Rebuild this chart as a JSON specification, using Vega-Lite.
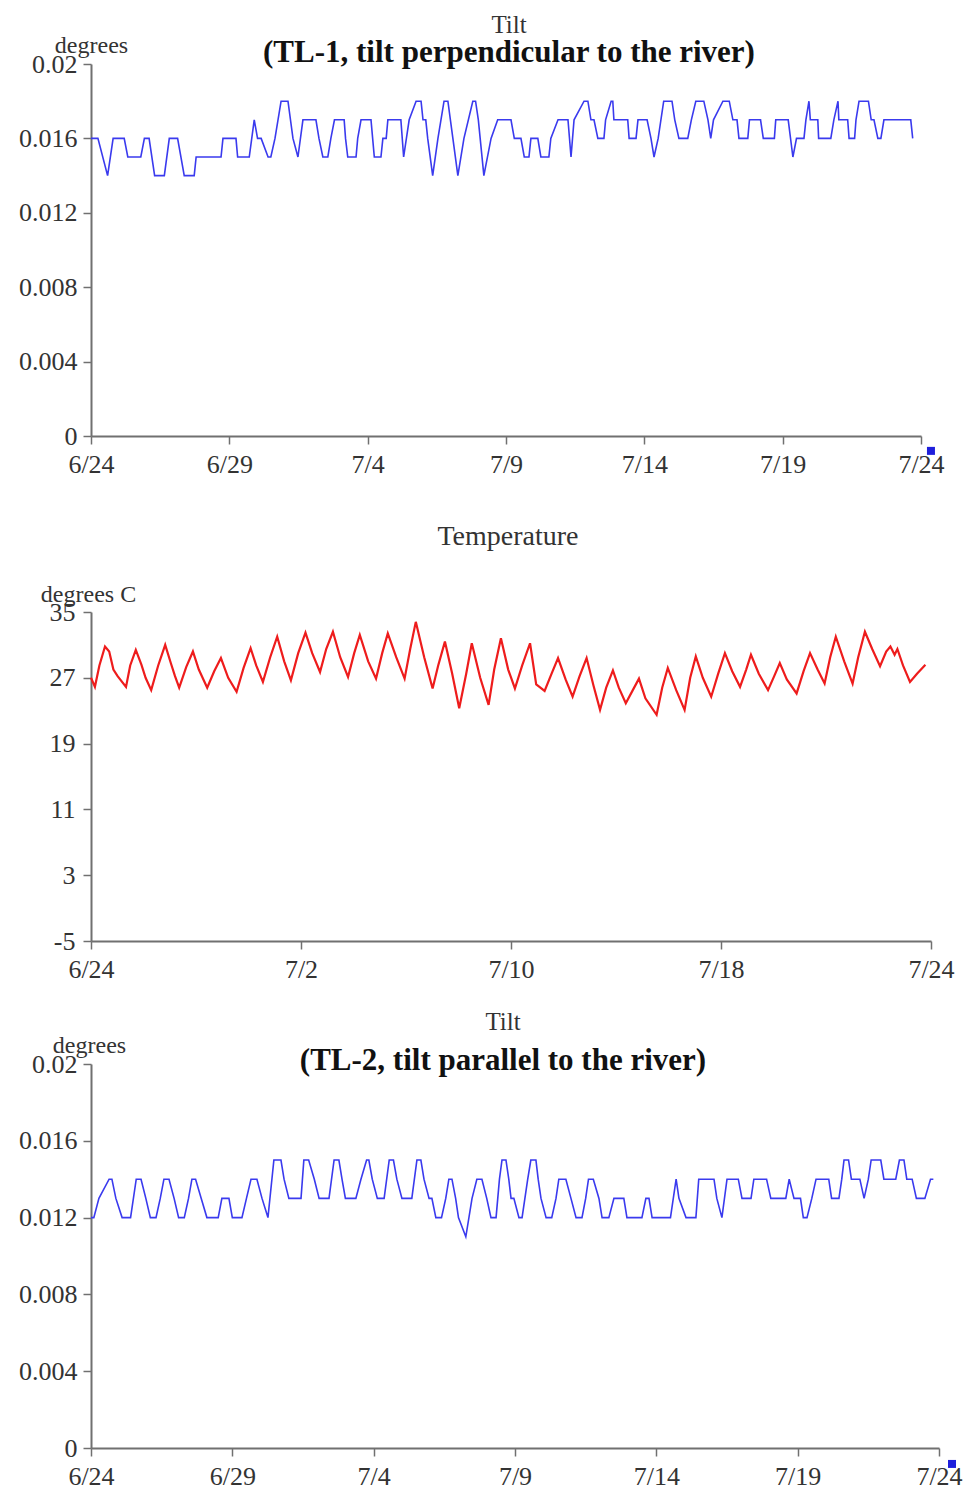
{
"$schema": "https://vega.github.io/schema/vega-lite/v6.json",
"background": "white",
"padding": {"left": 18, "top": 13, "right": 5, "bottom": 0},
"config": {
 "view": {"stroke": null},
 "font": "Liberation Serif",
 "axis": {"labelFont": "Liberation Serif", "labelFontSize": 26, "labelColor": "#333333", "domainColor": "#707070", "domainWidth": 2, "tickColor": "#707070", "tickWidth": 1.5, "tickSize": 8, "grid": false, "titleFont": "Liberation Serif", "titleFontSize": 24, "titleFontWeight": "normal", "titleColor": "#333333", "labelFlush": false, "labelOverlap": false},
 "title": {"font": "Liberation Serif", "fontSize": 25, "fontWeight": "normal", "color": "#333333", "subtitleFont": "Liberation Serif", "subtitleFontSize": 31, "subtitleFontWeight": "bold", "subtitleColor": "#111111", "anchor": "middle", "frame": "group"}
},
"datasets": {
 "tl1": [
{"d":0,"v":0.016},{"d":0.25,"v":0.016},{"d":0.6,"v":0.014},{"d":0.8,"v":0.016},{"d":1.2,"v":0.016},{"d":1.33,"v":0.015},{"d":1.8,"v":0.015},{"d":1.93,"v":0.016},{"d":2.1,"v":0.016},{"d":2.3,"v":0.014},{"d":2.65,"v":0.014},{"d":2.83,"v":0.016},{"d":3.13,"v":0.016},{"d":3.37,"v":0.014},{"d":3.73,"v":0.014},{"d":3.8,"v":0.015},{"d":4.7,"v":0.015},{"d":4.77,"v":0.016},{"d":5.24,"v":0.016},{"d":5.3,"v":0.015},{"d":5.72,"v":0.015},{"d":5.9,"v":0.017},{"d":6.02,"v":0.016},{"d":6.15,"v":0.016},{"d":6.4,"v":0.015},{"d":6.5,"v":0.015},{"d":6.65,"v":0.016},{"d":6.87,"v":0.018},{"d":7.12,"v":0.018},{"d":7.3,"v":0.016},{"d":7.48,"v":0.015},{"d":7.66,"v":0.017},{"d":8.13,"v":0.017},{"d":8.24,"v":0.016},{"d":8.38,"v":0.015},{"d":8.56,"v":0.015},{"d":8.67,"v":0.016},{"d":8.8,"v":0.017},{"d":9.15,"v":0.017},{"d":9.2,"v":0.016},{"d":9.28,"v":0.015},{"d":9.58,"v":0.015},{"d":9.64,"v":0.016},{"d":9.76,"v":0.017},{"d":10.12,"v":0.017},{"d":10.18,"v":0.016},{"d":10.24,"v":0.015},{"d":10.48,"v":0.015},{"d":10.55,"v":0.016},{"d":10.67,"v":0.016},{"d":10.73,"v":0.017},{"d":11.2,"v":0.017},{"d":11.3,"v":0.015},{"d":11.5,"v":0.017},{"d":11.75,"v":0.018},{"d":11.93,"v":0.018},{"d":12.0,"v":0.017},{"d":12.1,"v":0.017},{"d":12.17,"v":0.016},{"d":12.35,"v":0.014},{"d":12.54,"v":0.016},{"d":12.76,"v":0.018},{"d":12.9,"v":0.018},{"d":13.08,"v":0.016},{"d":13.26,"v":0.014},{"d":13.48,"v":0.016},{"d":13.8,"v":0.018},{"d":13.9,"v":0.018},{"d":14.0,"v":0.017},{"d":14.2,"v":0.014},{"d":14.46,"v":0.016},{"d":14.7,"v":0.017},{"d":15.18,"v":0.017},{"d":15.3,"v":0.016},{"d":15.54,"v":0.016},{"d":15.66,"v":0.015},{"d":15.83,"v":0.015},{"d":15.9,"v":0.016},{"d":16.15,"v":0.016},{"d":16.26,"v":0.015},{"d":16.55,"v":0.015},{"d":16.62,"v":0.016},{"d":16.88,"v":0.017},{"d":17.24,"v":0.017},{"d":17.35,"v":0.015},{"d":17.46,"v":0.017},{"d":17.82,"v":0.018},{"d":17.96,"v":0.018},{"d":18.07,"v":0.017},{"d":18.18,"v":0.017},{"d":18.32,"v":0.016},{"d":18.54,"v":0.016},{"d":18.6,"v":0.017},{"d":18.8,"v":0.018},{"d":18.86,"v":0.018},{"d":18.9,"v":0.017},{"d":19.4,"v":0.017},{"d":19.45,"v":0.016},{"d":19.7,"v":0.016},{"d":19.77,"v":0.017},{"d":20.1,"v":0.017},{"d":20.24,"v":0.016},{"d":20.35,"v":0.015},{"d":20.5,"v":0.016},{"d":20.7,"v":0.018},{"d":21.0,"v":0.018},{"d":21.1,"v":0.017},{"d":21.25,"v":0.016},{"d":21.57,"v":0.016},{"d":21.7,"v":0.017},{"d":21.86,"v":0.018},{"d":22.15,"v":0.018},{"d":22.3,"v":0.017},{"d":22.4,"v":0.016},{"d":22.5,"v":0.017},{"d":22.84,"v":0.018},{"d":23.07,"v":0.018},{"d":23.2,"v":0.017},{"d":23.35,"v":0.017},{"d":23.42,"v":0.016},{"d":23.74,"v":0.016},{"d":23.8,"v":0.017},{"d":24.2,"v":0.017},{"d":24.3,"v":0.016},{"d":24.7,"v":0.016},{"d":24.75,"v":0.017},{"d":25.2,"v":0.017},{"d":25.37,"v":0.015},{"d":25.5,"v":0.016},{"d":25.77,"v":0.016},{"d":25.84,"v":0.017},{"d":25.95,"v":0.018},{"d":26.0,"v":0.017},{"d":26.27,"v":0.017},{"d":26.3,"v":0.016},{"d":26.74,"v":0.016},{"d":26.85,"v":0.017},{"d":27.0,"v":0.018},{"d":27.03,"v":0.017},{"d":27.35,"v":0.017},{"d":27.4,"v":0.016},{"d":27.6,"v":0.016},{"d":27.65,"v":0.017},{"d":27.76,"v":0.018},{"d":28.1,"v":0.018},{"d":28.2,"v":0.017},{"d":28.3,"v":0.017},{"d":28.44,"v":0.016},{"d":28.55,"v":0.016},{"d":28.66,"v":0.017},{"d":29.63,"v":0.017},{"d":29.7,"v":0.016}
 ],
 "tl2": [
{"d":0,"v":0.012},{"d":0.1,"v":0.012},{"d":0.28,"v":0.013},{"d":0.64,"v":0.014},{"d":0.74,"v":0.014},{"d":0.88,"v":0.013},{"d":1.1,"v":0.012},{"d":1.4,"v":0.012},{"d":1.6,"v":0.014},{"d":1.77,"v":0.014},{"d":1.94,"v":0.013},{"d":2.1,"v":0.012},{"d":2.3,"v":0.012},{"d":2.45,"v":0.013},{"d":2.58,"v":0.014},{"d":2.76,"v":0.014},{"d":2.94,"v":0.013},{"d":3.1,"v":0.012},{"d":3.3,"v":0.012},{"d":3.45,"v":0.013},{"d":3.57,"v":0.014},{"d":3.7,"v":0.014},{"d":3.9,"v":0.013},{"d":4.1,"v":0.012},{"d":4.5,"v":0.012},{"d":4.63,"v":0.013},{"d":4.88,"v":0.013},{"d":5.0,"v":0.012},{"d":5.34,"v":0.012},{"d":5.5,"v":0.013},{"d":5.66,"v":0.014},{"d":5.87,"v":0.014},{"d":6.05,"v":0.013},{"d":6.26,"v":0.012},{"d":6.47,"v":0.015},{"d":6.72,"v":0.015},{"d":6.83,"v":0.014},{"d":7.0,"v":0.013},{"d":7.43,"v":0.013},{"d":7.53,"v":0.015},{"d":7.7,"v":0.015},{"d":7.9,"v":0.014},{"d":8.07,"v":0.013},{"d":8.42,"v":0.013},{"d":8.6,"v":0.015},{"d":8.77,"v":0.015},{"d":8.88,"v":0.014},{"d":9.0,"v":0.013},{"d":9.37,"v":0.013},{"d":9.55,"v":0.014},{"d":9.75,"v":0.015},{"d":9.83,"v":0.015},{"d":9.95,"v":0.014},{"d":10.13,"v":0.013},{"d":10.37,"v":0.013},{"d":10.55,"v":0.015},{"d":10.7,"v":0.015},{"d":10.82,"v":0.014},{"d":11.0,"v":0.013},{"d":11.35,"v":0.013},{"d":11.53,"v":0.015},{"d":11.67,"v":0.015},{"d":11.78,"v":0.014},{"d":11.96,"v":0.013},{"d":12.06,"v":0.013},{"d":12.2,"v":0.012},{"d":12.4,"v":0.012},{"d":12.55,"v":0.013},{"d":12.66,"v":0.014},{"d":12.77,"v":0.014},{"d":12.9,"v":0.013},{"d":13.0,"v":0.012},{"d":13.26,"v":0.011},{"d":13.48,"v":0.013},{"d":13.65,"v":0.014},{"d":13.83,"v":0.014},{"d":14.0,"v":0.013},{"d":14.15,"v":0.012},{"d":14.33,"v":0.012},{"d":14.45,"v":0.014},{"d":14.54,"v":0.015},{"d":14.68,"v":0.015},{"d":14.78,"v":0.014},{"d":14.86,"v":0.013},{"d":14.96,"v":0.013},{"d":15.14,"v":0.012},{"d":15.25,"v":0.012},{"d":15.45,"v":0.014},{"d":15.56,"v":0.015},{"d":15.74,"v":0.015},{"d":15.82,"v":0.014},{"d":15.92,"v":0.013},{"d":16.1,"v":0.012},{"d":16.3,"v":0.012},{"d":16.45,"v":0.013},{"d":16.55,"v":0.014},{"d":16.8,"v":0.014},{"d":16.98,"v":0.013},{"d":17.16,"v":0.012},{"d":17.37,"v":0.012},{"d":17.5,"v":0.013},{"d":17.6,"v":0.014},{"d":17.77,"v":0.014},{"d":17.97,"v":0.013},{"d":18.08,"v":0.012},{"d":18.32,"v":0.012},{"d":18.5,"v":0.013},{"d":18.85,"v":0.013},{"d":18.96,"v":0.012},{"d":19.49,"v":0.012},{"d":19.63,"v":0.013},{"d":19.74,"v":0.013},{"d":19.85,"v":0.012},{"d":20.5,"v":0.012},{"d":20.7,"v":0.014},{"d":20.8,"v":0.013},{"d":21.05,"v":0.012},{"d":21.4,"v":0.012},{"d":21.5,"v":0.014},{"d":22.04,"v":0.014},{"d":22.14,"v":0.013},{"d":22.32,"v":0.012},{"d":22.5,"v":0.014},{"d":22.9,"v":0.014},{"d":23.03,"v":0.013},{"d":23.35,"v":0.013},{"d":23.45,"v":0.014},{"d":23.9,"v":0.014},{"d":24.05,"v":0.013},{"d":24.58,"v":0.013},{"d":24.7,"v":0.014},{"d":24.87,"v":0.013},{"d":25.1,"v":0.013},{"d":25.2,"v":0.012},{"d":25.33,"v":0.012},{"d":25.5,"v":0.013},{"d":25.65,"v":0.014},{"d":26.1,"v":0.014},{"d":26.2,"v":0.013},{"d":26.46,"v":0.013},{"d":26.56,"v":0.014},{"d":26.64,"v":0.015},{"d":26.8,"v":0.015},{"d":26.9,"v":0.014},{"d":27.2,"v":0.014},{"d":27.35,"v":0.013},{"d":27.5,"v":0.014},{"d":27.6,"v":0.015},{"d":27.94,"v":0.015},{"d":28.05,"v":0.014},{"d":28.47,"v":0.014},{"d":28.6,"v":0.015},{"d":28.76,"v":0.015},{"d":28.86,"v":0.014},{"d":29.05,"v":0.014},{"d":29.2,"v":0.013},{"d":29.5,"v":0.013},{"d":29.7,"v":0.014},{"d":29.8,"v":0.014}
 ],
 "temp": [
{"d":0,"t":27.0},{"d":0.14,"t":25.9},{"d":0.3,"t":28.5},{"d":0.5,"t":30.8},{"d":0.65,"t":30.2},{"d":0.8,"t":28.0},{"d":0.95,"t":27.2},{"d":1.25,"t":25.9},{"d":1.4,"t":28.5},{"d":1.6,"t":30.4},{"d":1.8,"t":28.6},{"d":1.95,"t":27.0},{"d":2.15,"t":25.5},{"d":2.4,"t":28.5},{"d":2.65,"t":31.0},{"d":2.85,"t":28.8},{"d":3.0,"t":27.2},{"d":3.15,"t":25.8},{"d":3.4,"t":28.3},{"d":3.64,"t":30.2},{"d":3.85,"t":28.0},{"d":4.15,"t":25.8},{"d":4.4,"t":27.8},{"d":4.64,"t":29.4},{"d":4.9,"t":27.0},{"d":5.2,"t":25.3},{"d":5.45,"t":28.2},{"d":5.7,"t":30.6},{"d":5.9,"t":28.5},{"d":6.14,"t":26.5},{"d":6.4,"t":29.5},{"d":6.65,"t":32.0},{"d":6.9,"t":29.0},{"d":7.14,"t":26.7},{"d":7.4,"t":30.0},{"d":7.66,"t":32.5},{"d":7.9,"t":30.0},{"d":8.18,"t":27.7},{"d":8.4,"t":30.5},{"d":8.64,"t":32.6},{"d":8.9,"t":29.5},{"d":9.18,"t":27.1},{"d":9.4,"t":30.0},{"d":9.6,"t":32.2},{"d":9.9,"t":29.0},{"d":10.18,"t":26.9},{"d":10.4,"t":30.0},{"d":10.6,"t":32.4},{"d":10.9,"t":29.5},{"d":11.2,"t":26.9},{"d":11.4,"t":30.5},{"d":11.6,"t":33.8},{"d":11.9,"t":29.5},{"d":12.2,"t":25.7},{"d":12.4,"t":28.5},{"d":12.64,"t":31.4},{"d":12.9,"t":27.5},{"d":13.15,"t":23.3},{"d":13.4,"t":27.5},{"d":13.6,"t":31.2},{"d":13.9,"t":27.0},{"d":14.2,"t":23.7},{"d":14.4,"t":28.0},{"d":14.64,"t":31.8},{"d":14.9,"t":28.0},{"d":15.14,"t":25.7},{"d":15.4,"t":28.5},{"d":15.68,"t":31.2},{"d":15.9,"t":26.2},{"d":16.05,"t":25.8},{"d":16.2,"t":25.4},{"d":16.45,"t":27.5},{"d":16.68,"t":29.4},{"d":16.95,"t":26.8},{"d":17.2,"t":24.7},{"d":17.45,"t":27.2},{"d":17.7,"t":29.4},{"d":17.95,"t":26.0},{"d":18.18,"t":23.1},{"d":18.4,"t":25.8},{"d":18.64,"t":27.9},{"d":18.85,"t":25.8},{"d":19.1,"t":23.9},{"d":19.35,"t":25.5},{"d":19.57,"t":26.9},{"d":19.8,"t":24.5},{"d":20.2,"t":22.5},{"d":20.4,"t":25.8},{"d":20.6,"t":28.2},{"d":20.9,"t":25.5},{"d":21.2,"t":23.1},{"d":21.4,"t":27.0},{"d":21.6,"t":29.6},{"d":21.85,"t":27.0},{"d":22.15,"t":24.7},{"d":22.4,"t":27.5},{"d":22.64,"t":30.0},{"d":22.9,"t":27.8},{"d":23.18,"t":25.9},{"d":23.4,"t":28.0},{"d":23.57,"t":29.8},{"d":23.85,"t":27.5},{"d":24.18,"t":25.5},{"d":24.4,"t":27.2},{"d":24.6,"t":28.8},{"d":24.85,"t":26.8},{"d":25.2,"t":25.1},{"d":25.45,"t":27.8},{"d":25.68,"t":30.0},{"d":25.95,"t":28.0},{"d":26.2,"t":26.3},{"d":26.4,"t":29.5},{"d":26.6,"t":32.0},{"d":26.9,"t":29.0},{"d":27.2,"t":26.3},{"d":27.4,"t":29.5},{"d":27.64,"t":32.6},{"d":27.9,"t":30.5},{"d":28.18,"t":28.4},{"d":28.4,"t":30.2},{"d":28.55,"t":30.8},{"d":28.7,"t":29.8},{"d":28.8,"t":30.5},{"d":29.0,"t":28.5},{"d":29.25,"t":26.5},{"d":29.5,"t":27.5},{"d":29.8,"t":28.6}
 ],
 "mk1": [{"d":30.36,"v":-0.0008}],
 "mk3": [{"d":30.46,"v":-0.00083}]
},
"vconcat": [
 {
  "spacing": 46,
  "vconcat": [
   {
    "width": 830, "height": 372,
    "title": {"text": "Tilt", "subtitle": "(TL-1, tilt perpendicular to the river)", "offset": -35, "subtitlePadding": 0, "dx": 3},
    "layer": [
     {"data": {"name": "tl1"}, "mark": {"type": "line", "color": "#3a3aee", "strokeWidth": 1.6},
      "encoding": {
       "x": {"field": "d", "type": "quantitative", "scale": {"domain": [0, 30], "nice": false, "zero": false},
             "axis": {"values": [0, 5, 10, 15, 20, 25, 30], "labelExpr": "['6/24','6/29','7/4','7/9','7/14','7/19','7/24'][round(datum.value/5)]", "title": null, "labelPadding": 7}},
       "y": {"field": "v", "type": "quantitative", "scale": {"domain": [0, 0.02], "nice": false, "zero": false},
             "axis": {"values": [0, 0.004, 0.008, 0.012, 0.016, 0.02], "labelExpr": "format(datum.value, '.3~f')", "title": "degrees", "titleAngle": 0, "titleAlign": "center", "titleBaseline": "alphabetic", "titleX": 0, "titleY": -12, "labelPadding": 6}}
      }},
     {"data": {"name": "mk1"}, "mark": {"type": "point", "shape": "square", "filled": true, "color": "#1f1fdc", "size": 64, "opacity": 1},
      "encoding": {"x": {"field": "d", "type": "quantitative"}, "y": {"field": "v", "type": "quantitative"}}}
    ]
   },
   {
    "width": 840, "height": 329,
    "title": {"text": "Temperature", "fontSize": 28, "offset": 31, "dx": -3},
    "data": {"name": "temp"},
    "mark": {"type": "line", "color": "#ee1c1c", "strokeWidth": 2.2},
    "encoding": {
     "x": {"field": "d", "type": "quantitative", "scale": {"domain": [0, 30], "nice": false, "zero": false},
           "axis": {"values": [0, 7.5, 15, 22.5, 30], "labelExpr": "['6/24','7/2','7/10','7/18','7/24'][round(datum.value/7.5)]", "title": null, "labelPadding": 7}},
     "y": {"field": "t", "type": "quantitative", "scale": {"domain": [-5, 35], "nice": false, "zero": false},
           "axis": {"values": [-5, 3, 11, 19, 27, 35], "labelExpr": "'' + datum.value", "title": "degrees C", "titleAngle": 0, "titleAlign": "center", "titleBaseline": "alphabetic", "titleX": -3, "titleY": -11, "labelPadding": 8}}
    }
   }
  ]
 },
 {
  "width": 848, "height": 384,
  "title": {"text": "Tilt", "subtitle": "(TL-2, tilt parallel to the river)", "offset": -43, "subtitlePadding": 11, "dx": -12},
  "layer": [
   {"data": {"name": "tl2"}, "mark": {"type": "line", "color": "#3a3aee", "strokeWidth": 1.6},
    "encoding": {
     "x": {"field": "d", "type": "quantitative", "scale": {"domain": [0, 30], "nice": false, "zero": false},
           "axis": {"values": [0, 5, 10, 15, 20, 25, 30], "labelExpr": "['6/24','6/29','7/4','7/9','7/14','7/19','7/24'][round(datum.value/5)]", "title": null, "labelPadding": 7}},
     "y": {"field": "v", "type": "quantitative", "scale": {"domain": [0, 0.02], "nice": false, "zero": false},
           "axis": {"values": [0, 0.004, 0.008, 0.012, 0.016, 0.02], "labelExpr": "format(datum.value, '.3~f')", "title": "degrees", "titleAngle": 0, "titleAlign": "center", "titleBaseline": "alphabetic", "titleX": -2, "titleY": -12, "labelPadding": 6}}
    }},
   {"data": {"name": "mk3"}, "mark": {"type": "point", "shape": "square", "filled": true, "color": "#1f1fdc", "size": 64, "opacity": 1},
    "encoding": {"x": {"field": "d", "type": "quantitative"}, "y": {"field": "v", "type": "quantitative"}}}
  ]
 }
],
"spacing": 28
}
